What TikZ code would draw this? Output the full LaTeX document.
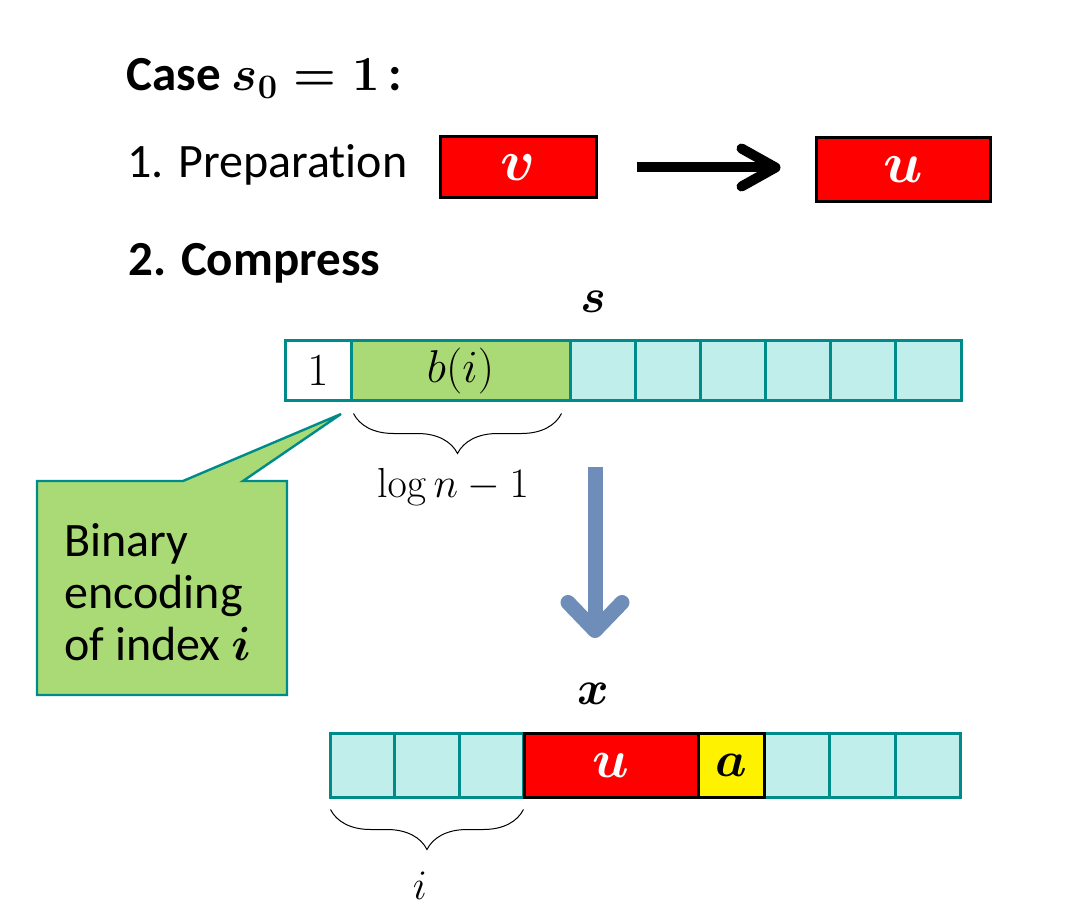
\RequirePackage{fix-cm}
\documentclass[tikz,border=0pt]{standalone}
\usepackage{amsmath}
\usepackage[no-math]{fontspec}
\setmainfont[Ligatures=NoCommon]{Carlito}
\usetikzlibrary{arrows.meta,decorations.pathreplacing}
\definecolor{tealline}{RGB}{0,139,139}
\definecolor{cellcyan}{RGB}{192,238,235}
\definecolor{cellgreen}{RGB}{170,218,117}
\definecolor{flowblue}{RGB}{111,141,185}
\tikzset{
    cell/.style={draw=tealline, line width=1.5pt, fill=cellcyan, minimum height=30pt, inner sep=0pt},
    blk/.style={draw=black, line width=1.5pt, fill=red, inner sep=0pt},
    bracefig/.style={decorate, decoration={brace, mirror, amplitude=20pt}, line width=0.5pt},
    headtext/.style={font=\fontsize{24.5}{28}\selectfont\bfseries, inner sep=0pt},
    bodytext/.style={font=\fontsize{24}{26}\selectfont, inner sep=0pt},
    mathtext/.style={font=\fontsize{21}{24}\selectfont},
    bigmath/.style={font=\fontsize{29}{30}\selectfont, text=white},
    callout/.style={fill=cellgreen, draw=tealline, line width=1.2pt}
}
\begin{document}
\begin{tikzpicture}[x=0.5pt, y=-0.5pt]
            \useasboundingbox (0,0) rectangle (1065,919);
            \node[headtext, anchor=base west] (title) at (126,91) {Case $\boldsymbol{s_0=1}$\,:};
            \node[bodytext, anchor=base west] (prep) at (127,178) {1. Preparation};
            \node[blk, bigmath, minimum width=78pt, minimum height=30.5pt] (v) at (518,167.5) {$\boldsymbol{v}$};
            \node[blk, bigmath, minimum width=87pt, minimum height=32pt] (u) at (903,170) {$\boldsymbol{u}$};
            \draw[line width=5pt, -{Straight Barb[length=17pt, width=19pt, round]}, shorten <=19.5pt, shorten >=17pt] (v.east) -- (v.east -| u.west);
            \node[headtext, anchor=base west] (step) at (128,276) {2. Compress};

            \node[bodytext] (slbl) at (593,302) {$\boldsymbol{s}$};
            \node[cell, font=\fontsize{23}{24}\selectfont, fill=white, minimum width=33pt] (one) at (318,371) {$1$};
            \node[cell, font=\fontsize{23}{24}\selectfont, fill=cellgreen, minimum width=109.5pt] (bi) at (460.5,371) {$b(i)$};
            \foreach \k in {0,...,5}
                \node[cell, minimum width=32.6pt] (s\k) at ({602.6+65.17*\k},371) {};
            \draw[bracefig] ([xshift=2pt, yshift=-5.5pt]bi.south west) -- ([xshift=-5pt, yshift=-5.5pt]bi.south east);
            \node[mathtext] (len) at (453,487) {$\log n - 1$};

            \coordinate (tip) at (341,414);
            \filldraw[callout] (37,481) -- (183,481) -- (tip) -- (243,481) -- (287,481) -- (287,695) -- (37,695) -- cycle;
            \node[bodytext, anchor=west, align=left] (note) at (64,592) {Binary\\encoding\\of index $\boldsymbol{i}$};

            \coordinate (flowtop) at (595,467);
            \coordinate (flowend) at (595,638);
            \draw[flowblue, line width=7.5pt, -{Straight Barb[length=14pt, width=27pt, round]}] (flowtop) -- (flowend);

            \node[bodytext] (xlbl) at (593,694) {$\boldsymbol{x}$};
            \foreach \k in {0,1,2}
                \node[cell, minimum width=32.3pt, minimum height=32pt] (xl\k) at ({362.3+64.67*\k},765) {};
            \foreach \k in {0,1,2}
                \node[cell, minimum width=32.8pt, minimum height=32pt] (xr\k) at ({796.8+65.67*\k},765) {};
            \node[blk, minimum width=87pt, minimum height=32pt, font=\fontsize{27}{30}\selectfont, text=white] (xu) at (611,765) {$\boldsymbol{u}$};
            \node[blk, fill=yellow, minimum width=33pt, minimum height=32pt, font=\fontsize{25}{30}\selectfont] (xa) at (731,765) {$\boldsymbol{a}$};
            \draw[bracefig] ([xshift=1pt, yshift=-5.5pt]xl0.south west) -- ([xshift=-1pt, yshift=-5.5pt]xl2.south east);
            \node[mathtext] (ilbl) at (420,886) {$i$};
\end{tikzpicture}
\end{document}
